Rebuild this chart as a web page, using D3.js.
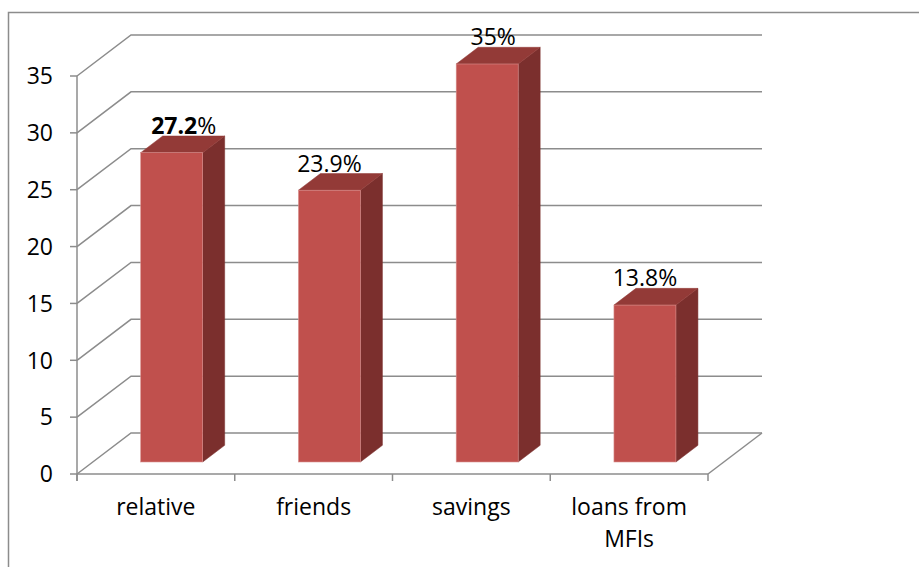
<!DOCTYPE html>
<html>
<head>
<meta charset="utf-8">
<script src="https://cdn.jsdelivr.net/npm/d3@7"></script>
<style>
  html, body { margin: 0; padding: 0; background: #fff; }
  svg { display: block; }
  text { font-family: "Open Sans", "Noto Sans", sans-serif; fill: #000; }
</style>
</head>
<body>
<svg id="chart" width="919" height="567"></svg>
<script>
const categories = ["relative", "friends", "savings", "loans from MFIs"];
const categoryLines = [["relative"], ["friends"], ["savings"], ["loans from", "MFIs"]];
const values = [27.2, 23.9, 35, 13.8];
const valueLabels = [["27.2", "%"], ["23.9", "%"], ["35", "%"], ["13.8", "%"]];
const boldPart = [true, false, false, false];
const yTicks = [0, 5, 10, 15, 20, 25, 30, 35];

// label placement nudges (layout only, px)
const labelNudgeX = [12, 0, 6, 0];

const svg = d3.select("#chart");
const W = 919, H = 567;
const FS = 23;

// plot geometry
const left = 77, right = 708, yBottom = 474, yTop = 76;
const depthX = 54, depthY = 41;   // full depth projection offset
const barD0 = 0.293, barD1 = 0.70; // bar front/back depth fraction
const barFrac = 0.393;

const x = d3.scaleBand().domain(categories).range([left, right]).paddingInner(0).paddingOuter(0);
const y = d3.scaleLinear().domain([0, 35]).range([yBottom, yTop]);

const proj = (px, py, d) => [px + d * depthX, py - d * depthY];

const gridColor = "#8c8c8c";

// outer frame (top and left)
svg.append("path")
  .attr("d", `M8.5,${H} L8.5,12.5 L${W},12.5`)
  .attr("fill", "none").attr("stroke", gridColor).attr("stroke-width", 1.5);

// gridlines: side wall diagonal + back wall horizontal
const grid = svg.append("g").attr("fill", "none").attr("stroke", gridColor).attr("stroke-width", 1.5);
yTicks.forEach(t => {
  const fy = y(t);
  const [bx, by] = proj(left, fy, 1);
  const [ex] = proj(right, fy, 1);
  grid.append("path").attr("d", `M${left},${fy} L${bx},${by} L${ex},${by}`);
});
// floor right edge
{
  const [bx, by] = proj(right, yBottom, 1);
  grid.append("path").attr("d", `M${right},${yBottom} L${bx},${by}`);
}

// y axis line and ticks
const axisG = svg.append("g").attr("stroke", gridColor).attr("stroke-width", 1.5).attr("fill", "none");
axisG.append("line").attr("x1", left).attr("x2", left).attr("y1", yTop).attr("y2", yBottom + 7);
yTicks.forEach(t => {
  axisG.append("line").attr("x1", left - 7).attr("x2", left).attr("y1", y(t)).attr("y2", y(t));
});
// x axis line and ticks
axisG.append("line").attr("x1", left).attr("x2", right).attr("y1", yBottom).attr("y2", yBottom);
const xEdges = categories.map(c => x(c)).concat([right]);
xEdges.forEach(e => {
  axisG.append("line").attr("x1", e).attr("x2", e).attr("y1", yBottom).attr("y2", yBottom + 7);
});

// y tick labels
svg.append("g").selectAll("text").data(yTicks).join("text")
  .attr("x", 53).attr("y", d => y(d))
  .attr("dy", "0.36em")
  .attr("text-anchor", "end")
  .attr("font-size", FS)
  .text(d => d);

// bars
const bars = svg.append("g");
categories.forEach((c, i) => {
  const bw = x.bandwidth() * barFrac;
  const x0 = x(c) + (x.bandwidth() - bw) / 2;
  const x1 = x0 + bw;
  const v = values[i];
  const [fx0, fyb] = proj(x0, y(0), barD0);
  const [fx1] = proj(x1, y(0), barD0);
  const [, fyt] = proj(x0, y(v), barD0);
  const [bx0, byt] = proj(x0, y(v), barD1);
  const [bx1, byb] = proj(x1, y(0), barD1);
  // side face
  bars.append("path")
    .attr("d", `M${fx1},${fyt} L${bx1},${byt} L${bx1},${byb} L${fx1},${fyb} Z`)
    .attr("fill", "#7b2f2d").attr("stroke", "#7b2f2d").attr("stroke-width", 0.5);
  // top face
  bars.append("path")
    .attr("d", `M${fx0},${fyt} L${fx1},${fyt} L${bx1},${byt} L${bx0},${byt} Z`)
    .attr("fill", "#933a37").attr("stroke", "#933a37").attr("stroke-width", 0.5);
  // front face
  bars.append("rect")
    .attr("x", fx0).attr("y", fyt).attr("width", fx1 - fx0).attr("height", fyb - fyt)
    .attr("fill", "#c0504d").attr("stroke", "#d9908e").attr("stroke-width", 0.6);

  // value label
  const cx = (fx0 + fx1) / 2 + labelNudgeX[i];
  const t = svg.append("text")
    .attr("x", cx).attr("y", byt - 2)
    .attr("text-anchor", "middle")
    .attr("font-size", FS);
  t.append("tspan").attr("font-weight", boldPart[i] ? "bold" : "normal").text(valueLabels[i][0]);
  t.append("tspan").text(valueLabels[i][1]);
});

// category labels
categories.forEach((c, i) => {
  const cx = x(c) + x.bandwidth() / 2;
  const t = svg.append("text").attr("text-anchor", "middle").attr("font-size", FS);
  categoryLines[i].forEach((line, k) => {
    t.append("tspan").attr("x", cx).attr("y", 515 + k * 32).text(line);
  });
});
</script>
</body>
</html>
